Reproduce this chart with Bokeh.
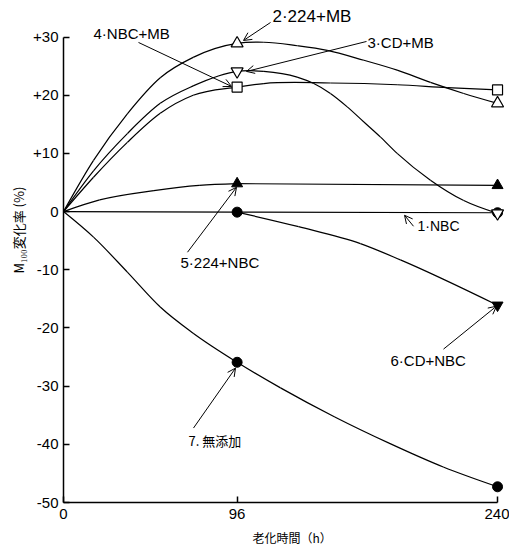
import numpy as np
from bokeh.plotting import figure
from bokeh.models import Range1d, FixedTicker, Label, Arrow, OpenHead, Title
from bokeh.embed import file_html
from bokeh.resources import INLINE

# ---------------- data ----------------
x_ticks = [0, 96, 240]
y_ticks = [-50, -40, -30, -20, -10, 0, 10, 20, 30]
y_tick_labels = ["-50", "-40", "-30", "-20", "-10", "0", "+10", "+20", "+30"]

# measured points (markers)
s1_h = [96, 240]; s1_v = [-0.1, -0.2]          # 1.NBC
s2_h = [96, 240]; s2_v = [28.9, 18.6]          # 2.224+MB
s3_h = [96, 240]; s3_v = [24.1, -0.3]          # 3.CD+MB
s4_h = [96, 240]; s4_v = [21.4, 20.9]          # 4.NBC+MB
s5_h = [96, 240]; s5_v = [4.8, 4.5]            # 5.224+NBC
s6_h = [240];     s6_v = [-16.1]               # 6.CD+NBC
s7_h = [96, 240]; s7_v = [-25.9, -47.3]        # 7.無添加

# traced curve points
c1_h = [0, 96, 240]; c1_v = [0, -0.1, -0.2]
c2_h = [0, 16.6, 35.3, 53.5, 71.7, 96, 110.8, 129.2, 145.8, 166.1, 184.5, 202.9, 221.3, 240]
c2_v = [0, 8.8, 16.8, 23.0, 26.5, 28.9, 29.1, 28.5, 27.7, 26.0, 24.3, 22.2, 20.3, 18.6]
c3_h = [0, 16.6, 35.3, 53.5, 71.7, 96, 110.8, 129.2, 138.4, 147.6, 156.9, 166.1, 175.3, 184.5, 202.9, 221.3, 240]
c3_v = [0, 7.0, 13.4, 18.6, 21.6, 24.1, 24.1, 23.1, 22.0, 20.3, 18.0, 15.4, 12.8, 10.0, 5.4, 1.9, -0.3]
c4_h = [0, 16.6, 35.3, 53.5, 71.7, 96, 110.8, 147.6, 184.5, 212.2, 240]
c4_v = [0, 5.9, 11.9, 16.9, 20.0, 21.4, 22.0, 22.1, 21.8, 21.3, 20.9]
c5_h = [0, 20, 50, 75, 96]
c5_v = [0, 2.0, 3.6, 4.5, 4.8]
c6_h = [96, 130, 164.2, 186.3, 240]
c6_v = [-0.1, -2.6, -5.5, -8.3, -16.1]
c7_h = [0, 16.6, 35.3, 53.5, 71.7, 96, 120, 150, 180, 210, 240]
c7_v = [0, -4.4, -10.4, -16.4, -20.9, -25.9, -30.3, -35.3, -39.8, -43.9, -47.3]

# ---------------- helpers ----------------
def hermite_beziers(xs, ys):
    xs = np.asarray(xs, float); ys = np.asarray(ys, float)
    h = np.diff(xs); d = np.diff(ys) / h
    n = len(xs)
    m = np.empty(n)
    for i in range(1, n - 1):
        m[i] = (d[i - 1] * h[i] + d[i] * h[i - 1]) / (h[i - 1] + h[i])
    if n > 2:
        m[0] = 1.5 * d[0] - 0.5 * m[1]
        m[-1] = 1.5 * d[-1] - 0.5 * m[-2]
    else:
        m[0] = m[-1] = d[0]
    return dict(x0=xs[:-1], y0=ys[:-1], x1=xs[1:], y1=ys[1:],
                cx0=xs[:-1] + h / 3, cy0=ys[:-1] + m[:-1] * h / 3,
                cx1=xs[1:] - h / 3, cy1=ys[1:] - m[1:] * h / 3)

# pixel -> data conversion for annotation placement
def dx(px):
    return (px - 63) / 1.8085

def dy(py):
    return (211.3 - py) / 5.825

FONT = "Liberation Sans"
CJK = "Noto Sans CJK JP"

p = figure(frame_width=442, frame_height=494,
           x_range=Range1d(0, dx(505)), y_range=Range1d(-50, dy(8)),
           output_backend="svg", toolbar_location=None, title=None,
           min_border_left=63, min_border_right=4, min_border_top=8,
           min_border_bottom=56)
p.background_fill_color = "white"
p.border_fill_color = "white"
p.outline_line_color = None
p.xgrid.visible = False
p.ygrid.visible = False

for ax in (p.xaxis[0], p.yaxis[0]):
    ax.axis_line_width = 1.5
    ax.axis_line_color = "black"
    ax.major_tick_in = 6
    ax.major_tick_out = 0
    ax.major_tick_line_width = 1.5
    ax.minor_tick_in = 0
    ax.minor_tick_out = 0
    ax.major_label_text_font = FONT
    ax.major_label_text_font_size = "15px"
    ax.major_label_text_color = "black"

p.xaxis.ticker = FixedTicker(ticks=x_ticks)
p.xaxis.bounds = (x_ticks[0], x_ticks[-1])
p.xaxis.major_label_standoff = 6
p.yaxis.ticker = FixedTicker(ticks=y_ticks)
p.yaxis.bounds = (y_ticks[0], y_ticks[-1])
p.yaxis.major_label_overrides = {t: l for t, l in zip(y_ticks, y_tick_labels)}
p.yaxis.major_label_standoff = 5

# axis titles: Titles anchored at their start (offset measured from frame edge)
p.add_layout(Title(text="M₁₀₀変化率 (%)", align="left", offset=502 - 273,
                   vertical_align="middle", text_font=CJK, text_font_size="13px",
                   text_font_style="normal", text_color="black", standoff=4), "left")
p.add_layout(Title(text="老化時間（h）", align="left", offset=252 - 63,
                   vertical_align="top", text_font=CJK, text_font_size="12px",
                   text_font_style="normal", text_color="black", standoff=14), "below")

LW = 1.2
# curves
p.line(c1_h, c1_v, line_color="black", line_width=LW)
for ch, cv in [(c2_h, c2_v), (c3_h, c3_v), (c4_h, c4_v), (c5_h, c5_v),
               (c6_h, c6_v), (c7_h, c7_v)]:
    p.bezier(line_color="black", line_width=LW, **hermite_beziers(ch, cv))
p.line(s5_h, s5_v, line_color="black", line_width=LW)

# markers
p.scatter(s1_h, s1_v, marker="circle", size=10, fill_color="black", line_color="black")
p.scatter(s7_h, s7_v, marker="circle", size=10, fill_color="black", line_color="black")
p.scatter(s5_h, s5_v, marker="triangle", size=11, fill_color="black", line_color="black")
p.scatter(s6_h, s6_v, marker="inverted_triangle", size=11, fill_color="black", line_color="black")
p.scatter(s2_h, s2_v, marker="triangle", size=12, fill_color="white", line_color="black", line_width=1.2)
p.scatter(s3_h, s3_v, marker="inverted_triangle", size=12, fill_color="white", line_color="black", line_width=1.2)
p.scatter(s4_h, s4_v, marker="square", size=10, fill_color="white", line_color="black", line_width=1.2)

# labels
labels = [
    ("2·224+MB", 272, 16, "17px", FONT),
    ("3·CD+MB", 367, 42, "15px", FONT),
    ("4·NBC+MB", 93, 33, "15px", FONT),
    ("5·224+NBC", 180, 262, "15px", FONT),
    ("1·NBC", 417, 226, "14px", FONT),
    ("6·CD+NBC", 390, 360, "15px", FONT),
    ("7. 無添加", 188, 440, "13px", CJK),
]
for txt, px, py, fs, fnt in labels:
    p.add_layout(Label(x=dx(px), y=dy(py), text=txt, text_align="left",
                       text_baseline="middle", text_font=fnt,
                       text_font_size=fs, text_color="black"))

arrows = [
    (270, 22, 243, 40),
    (366, 41, 246, 71),
    (138, 42, 231, 86),
    (187, 252, 236, 187),
    (413, 226, 404, 215),
    (443, 349, 496, 306),
    (193, 428, 235, 368),
]
for x0, y0, x1, y1 in arrows:
    p.add_layout(Arrow(end=OpenHead(size=8, line_width=1, line_color="black"),
                       x_start=dx(x0), y_start=dy(y0), x_end=dx(x1), y_end=dy(y1),
                       line_width=1, line_color="black"))

open("out.html", "w").write(file_html(p, INLINE))
